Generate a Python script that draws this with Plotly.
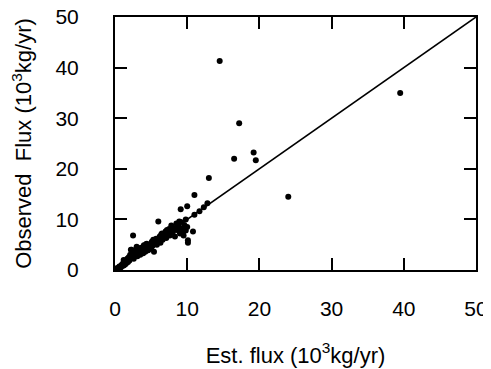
import plotly.graph_objects as go

# estimated flux vs observed flux (10^3 kg/yr)
est_flux = [
    14.5, 17.2, 16.5, 19.2, 19.5, 24.0, 39.5, 13.0, 12.8, 11.0, 10.0, 9.1,
    6.0, 2.5, 10.8, 10.1, 10.1, 12.3, 11.7, 11.0, 9.8,
    0.2, 0.3, 0.5, 0.6, 0.8, 0.9, 1.0, 1.1, 1.2, 1.3, 1.4, 1.5, 1.6, 1.7,
    1.8, 1.9, 2.0, 2.1, 2.2, 2.3, 2.4, 2.5, 2.6, 2.7, 2.8, 3.0, 3.1, 3.2,
    3.3, 3.5, 3.6, 3.7, 3.9, 4.0, 4.1, 4.2, 4.4, 4.5, 4.6, 4.8, 5.0, 5.1,
    5.2, 5.4, 5.5, 5.7, 5.8, 6.0, 6.2, 6.3, 6.5, 6.6, 6.8, 7.0, 7.1, 7.3,
    7.5, 7.6, 7.8, 8.0, 8.1, 8.3, 8.5, 8.6, 8.8, 9.0, 9.1, 9.3, 9.5, 9.6,
    9.8, 10.0, 1.2, 2.2, 3.0, 3.4, 4.3, 4.7, 5.3, 6.4, 7.2, 8.4, 8.9, 9.4,
]
obs_flux = [
    41.3, 29.0, 22.0, 23.2, 21.7, 14.5, 35.0, 18.2, 13.2, 14.8, 12.6, 12.0,
    9.6, 6.8, 7.6, 5.9, 5.4, 12.4, 11.6, 10.9, 10.0,
    0.1, 0.4, 0.3, 0.7, 0.5, 1.0, 0.8, 1.3, 0.9, 1.6, 1.1, 1.8, 1.4, 2.2,
    1.6, 2.5, 1.9, 3.0, 2.3, 4.0, 2.6, 3.4, 2.2, 3.8, 2.9, 3.3, 2.7, 4.1,
    3.5, 3.0, 4.4, 3.8, 3.3, 4.9, 4.2, 3.6, 5.2, 4.5, 3.9, 5.0, 4.3, 5.6,
    4.8, 3.6, 5.2, 6.2, 5.0, 5.8, 6.6, 5.4, 7.2, 6.0, 6.8, 7.6, 6.3, 7.2,
    8.1, 6.8, 8.8, 7.5, 8.3, 6.6, 9.2, 7.9, 8.6, 7.2, 9.5, 8.2, 6.8, 8.9,
    7.8, 8.5, 2.0, 4.0, 4.6, 3.9, 5.1, 4.2, 6.0, 7.0, 7.9, 8.0, 9.6, 7.4,
]
one_to_one = [0, 50]
ticks = [0, 10, 20, 30, 40, 50]

fig = go.Figure()

# 1:1 line
fig.add_trace(go.Scatter(
    x=one_to_one, y=one_to_one, mode='lines',
    line=dict(color='black', width=1.6), hoverinfo='skip', showlegend=False,
))

fig.add_trace(go.Scatter(
    x=est_flux, y=obs_flux, mode='markers',
    marker=dict(color='black', size=6), showlegend=False,
))

axis_style = dict(
    range=[0, 50], tickvals=ticks, ticks='inside', ticklen=12, tickwidth=1.5,
    tickcolor='black', showline=True, linecolor='black', linewidth=2,
    mirror='ticks', showgrid=False, zeroline=False, automargin=False,
    ticklabeloverflow='allow',
    tickfont=dict(family='Liberation Sans, Arial', size=21, color='black'),
)

# page body has an 8px margin, so the figure is 8px smaller than the window
fig.update_layout(
    width=483, height=361,
    margin=dict(l=107, r=15, t=9, b=99),
    plot_bgcolor='white', paper_bgcolor='white',
    font=dict(family='Liberation Sans, Arial', color='black'),
    xaxis=dict(**axis_style, ticklabelstandoff=19,
               title=dict(text='Est. flux (10<sup>3</sup>kg/yr)',
                          font=dict(size=22), standoff=28)),
    yaxis=dict(**axis_style, ticklabelstandoff=30,
               title=dict(text='Observed&nbsp; Flux (10<sup>3</sup>kg/yr)',
                          font=dict(size=22), standoff=18)),
)

fig.write_html("out.html")
